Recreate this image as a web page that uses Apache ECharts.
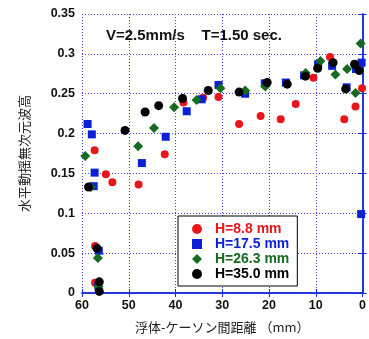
<!DOCTYPE html>
<html>
<head>
<meta charset="utf-8">
<script src="https://cdn.jsdelivr.net/npm/echarts@6/dist/echarts.min.js"></script>
<style>
  html, body { margin: 0; padding: 0; background: #fff; }
  #chart { width: 369px; height: 339px; }
</style>
</head>
<body>
<div id="chart"></div>
<script>
// [distance (mm), dimensionless wave height]
const h88 = [
  [57.3, 0.179], [54.9, 0.149], [53.5, 0.139], [47.9, 0.136], [42.3, 0.174],
  [38.3, 0.239], [34.1, 0.245], [30.8, 0.246], [26.4, 0.212], [21.8, 0.222],
  [17.5, 0.218], [14.3, 0.237], [10.5, 0.270], [6.95, 0.296], [3.9, 0.218],
  [1.5, 0.234], [0.1, 0.257], [57.2, 0.059], [57.2, 0.013]
];
const h175 = [
  [58.8, 0.212], [57.9, 0.199], [57.3, 0.151], [57.5, 0.134], [47.2, 0.163],
  [42.1, 0.196], [37.6, 0.228], [34.4, 0.243], [30.8, 0.261], [25.1, 0.250],
  [20.9, 0.263], [16.4, 0.264], [12.5, 0.273], [9.5, 0.287], [6.5, 0.285],
  [3.4, 0.258], [1.4, 0.281], [0.2, 0.289], [0.3, 0.099], [56.4, 0.053],
  [56.5, 0.009]
];
const h263 = [
  [59.3, 0.172], [58.1, 0.133], [48.0, 0.184], [44.6, 0.207], [40.3, 0.233],
  [35.5, 0.242], [30.4, 0.257], [25.1, 0.254], [20.8, 0.259], [12.15, 0.276],
  [9.0, 0.291], [5.8, 0.274], [3.3, 0.281], [1.5, 0.251], [0.4, 0.313],
  [56.6, 0.044], [56.5, 0.008]
];
const h350 = [
  [58.6, 0.133], [50.8, 0.204], [46.5, 0.227], [43.6, 0.235], [38.5, 0.244],
  [33.0, 0.254], [26.4, 0.252], [20.4, 0.264], [16.1, 0.262], [12.2, 0.272],
  [9.6, 0.282], [6.3, 0.289], [3.6, 0.256], [1.7, 0.287], [0.7, 0.279],
  [56.8, 0.056], [56.3, 0.014], [56.3, 0.002]
];

const seriesNames = ['H=8.8 mm', 'H=17.5 mm', 'H=26.3 mm', 'H=35.0 mm'];
const seriesColors = ['#e8161b', '#0a1fd6', '#156b1f', '#000000'];
const seriesSymbols = ['circle', 'rect', 'diamond', 'circle'];
const seriesSizes = [8, 8, 10, 9];
const seriesData = [h88, h175, h263, h350];

const chart = echarts.init(document.getElementById('chart'));

const font = 'Liberation Sans, Arial, sans-serif';
const gridLine = { show: true, lineStyle: { color: '#3b47e0', type: [1, 2], width: 1 } };
const axisLine = { show: true, lineStyle: { color: '#1a2ee0', width: 1.5 } };
const tick = { inside: true, length: 4, lineStyle: { color: '#1a2ee0' } };

chart.setOption({
  animation: false,
  backgroundColor: '#fff',
  title: {
    text: 'V=2.5mm/s    T=1.50 sec.',
    left: 101,
    top: 23,
    textStyle: { fontFamily: font, fontWeight: 'bold', fontSize: 15, color: '#111' }
  },
  legend: {
    orient: 'vertical',
    left: 178,
    top: 216,
    width: 117,
    padding: [6, 8, 5, 14],
    itemGap: 1,
    itemWidth: 10,
    itemHeight: 10,
    borderColor: '#000',
    borderWidth: 1,
    backgroundColor: '#fff',
    data: seriesNames.map((n, i) => ({
      name: n,
      icon: seriesSymbols[i],
      textStyle: { color: seriesColors[i] }
    })),
    textStyle: { fontFamily: font, fontWeight: 'bold', fontSize: 14, padding: [0, 0, 0, 8] }
  },
  grid: { left: 82, right: 2, top: 14, bottom: 41, containLabel: false },
  xAxis: [{
    type: 'value',
    inverse: true,
    min: 0,
    max: 60,
    interval: 10,
    name: '浮体-ケーソン間距離 （mm）',
    nameLocation: 'middle',
    nameGap: 28,
    nameTextStyle: { fontFamily: 'Noto Sans CJK JP', fontSize: 13, color: '#222' },
    axisLine: axisLine,
    axisTick: tick,
    axisLabel: { fontFamily: font, fontWeight: 'bold', fontSize: 12.5, color: '#111', margin: 6 },
    splitLine: gridLine
  }, {
    type: 'value',
    position: 'top',
    inverse: true,
    min: 0,
    max: 60,
    interval: 10,
    axisLine: axisLine,
    axisTick: tick,
    axisLabel: { show: false },
    splitLine: { show: false }
  }],
  yAxis: [{
    type: 'value',
    min: 0,
    max: 0.35,
    interval: 0.05,
    name: '水平動揺無次元波高',
    nameLocation: 'middle',
    nameGap: 51,
    nameRotate: 90,
    nameTextStyle: { fontFamily: 'Noto Sans CJK JP', fontSize: 13, color: '#222' },
    axisLine: axisLine,
    axisTick: tick,
    axisLabel: { fontFamily: font, fontWeight: 'bold', fontSize: 12.5, color: '#111', margin: 7 },
    splitLine: gridLine
  }, {
    type: 'value',
    position: 'right',
    min: 0,
    max: 0.35,
    interval: 0.05,
    axisLine: axisLine,
    axisTick: tick,
    axisLabel: { show: false },
    splitLine: { show: false }
  }],
  series: seriesNames.map((n, i) => ({
    name: n,
    type: 'scatter',
    symbol: seriesSymbols[i],
    symbolSize: seriesSizes[i],
    itemStyle: { color: seriesColors[i], opacity: 1 },
    data: seriesData[i],
    z: 2 + i
  }))
});
</script>
</body>
</html>
